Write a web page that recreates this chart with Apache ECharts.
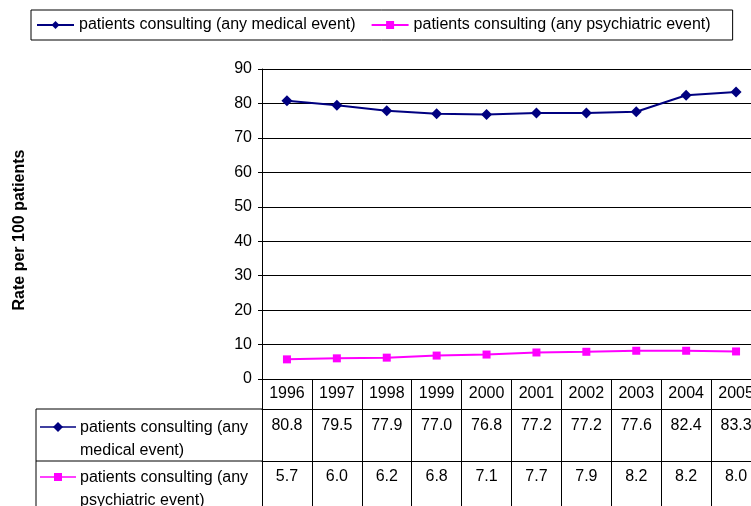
<!DOCTYPE html>
<html>
<head>
<meta charset="utf-8">
<script src="https://cdn.jsdelivr.net/npm/echarts@6/dist/echarts.min.js"></script>
<style>
    html, body { margin: 0; padding: 0; background: #fff; width: 751px; height: 506px; overflow: hidden; }
    /* the plot runs past the right edge in the original, so the canvas is wider than the window */
    #chart { width: 770px; height: 506px; }
</style>
</head>
<body>
<div id="chart"></div>
<script>
// data
const years = ['1996', '1997', '1998', '1999', '2000', '2001', '2002', '2003', '2004', '2005']
const medical = [80.8, 79.5, 77.9, 77.0, 76.8, 77.2, 77.2, 77.6, 82.4, 83.3]
const psychiatric = [5.7, 6.0, 6.2, 6.8, 7.1, 7.7, 7.9, 8.2, 8.2, 8.0]
const medName = 'patients consulting (any medical event)'
const psyName = 'patients consulting (any psychiatric event)'

const FONT = 'Liberation Sans, Arial, sans-serif'
const NAVY = '#000080'
const PINK = '#ff00ff'

let myChart = echarts.init(document.getElementById('chart'))

// one bottom axis per table row, its line draws the row border
const tableAxis = (offset, tickLen, margin, fmt) => ({
    type: 'category',
    gridIndex: 0,
    position: 'bottom',
    offset: offset,
    data: years,
    axisLine: { show: true, lineStyle: { color: '#000', width: 1 } },
    axisTick: { show: true, interval: 0, length: tickLen, lineStyle: { color: '#000', width: 1 } },
    axisLabel: {
        interval: 0,
        margin: margin,
        color: '#000',
        fontSize: 16,
        fontFamily: FONT,
        formatter: fmt
    },
    splitLine: { show: false }
})

const options = {
    backgroundColor: '#fff',
    animation: false,
    legend: {
        left: 31,
        top: 10,
        padding: [7, 22, 7, 5],
        borderColor: '#000',
        borderWidth: 1,
        itemWidth: 37,
        itemHeight: 10,
        itemGap: 15,
        textStyle: { color: '#000', fontSize: 16, fontFamily: FONT },
        data: [medName, psyName]
    },
    grid: {
        left: 262,
        top: 69,
        width: 499,
        bottom: 127
    },
    xAxis: [
        tableAxis(0, 30, 7, (v) => v),
        tableAxis(30, 52, 9, (v, i) => medical[i].toFixed(1)),
        tableAxis(82, 50, 8, (v, i) => psychiatric[i].toFixed(1))
    ],
    yAxis: {
        type: 'value',
        min: 0,
        max: 90,
        interval: 10,
        name: 'Rate per 100 patients',
        nameLocation: 'middle',
        nameGap: 234,
        nameRotate: 90,
        nameTextStyle: { color: '#000', fontSize: 16, fontWeight: 'bold', fontFamily: FONT, padding: [0, 12, 0, 0] },
        axisLine: { show: true, lineStyle: { color: '#000', width: 1 } },
        axisTick: { show: true, length: 4, lineStyle: { color: '#000' } },
        axisLabel: { color: '#000', fontSize: 16, fontFamily: FONT, margin: 10 },
        splitLine: { show: true, lineStyle: { color: '#000', width: 1 } }
    },
    series: [
        {
            name: medName,
            type: 'line',
            xAxisIndex: 0,
            data: medical,
            symbol: 'diamond',
            symbolSize: 11,
            lineStyle: { color: NAVY, width: 2 },
            itemStyle: { color: NAVY }
        },
        {
            name: psyName,
            type: 'line',
            xAxisIndex: 0,
            data: psychiatric,
            symbol: 'rect',
            symbolSize: 8,
            lineStyle: { color: PINK, width: 2 },
            itemStyle: { color: PINK }
        }
    ],
    // left column of the data table
    graphic: [
        { type: 'line', shape: { x1: 36, y1: 409, x2: 262, y2: 409 }, style: { stroke: '#000', lineWidth: 1 } },
        { type: 'line', shape: { x1: 36, y1: 461, x2: 262, y2: 461 }, style: { stroke: '#000', lineWidth: 1 } },
        { type: 'line', shape: { x1: 36, y1: 409, x2: 36, y2: 506 }, style: { stroke: '#000', lineWidth: 1 } },
        { type: 'line', shape: { x1: 40, y1: 427, x2: 76, y2: 427 }, style: { stroke: NAVY, lineWidth: 1.5 } },
        { type: 'polygon', shape: { points: [[58, 422], [63, 427], [58, 432], [53, 427]] }, style: { fill: NAVY } },
        {
            type: 'text', left: 80, top: 416,
            style: { text: 'patients consulting (any\nmedical event)', fill: '#000', font: '16px ' + FONT, lineHeight: 23 }
        },
        { type: 'line', shape: { x1: 40, y1: 477, x2: 76, y2: 477 }, style: { stroke: PINK, lineWidth: 1.5 } },
        { type: 'rect', shape: { x: 54, y: 473, width: 8, height: 8 }, style: { fill: PINK } },
        {
            type: 'text', left: 80, top: 466,
            style: { text: 'patients consulting (any\npsychiatric event)', fill: '#000', font: '16px ' + FONT, lineHeight: 23 }
        }
    ]
}

myChart.setOption(options)
</script>
</body>
</html>
